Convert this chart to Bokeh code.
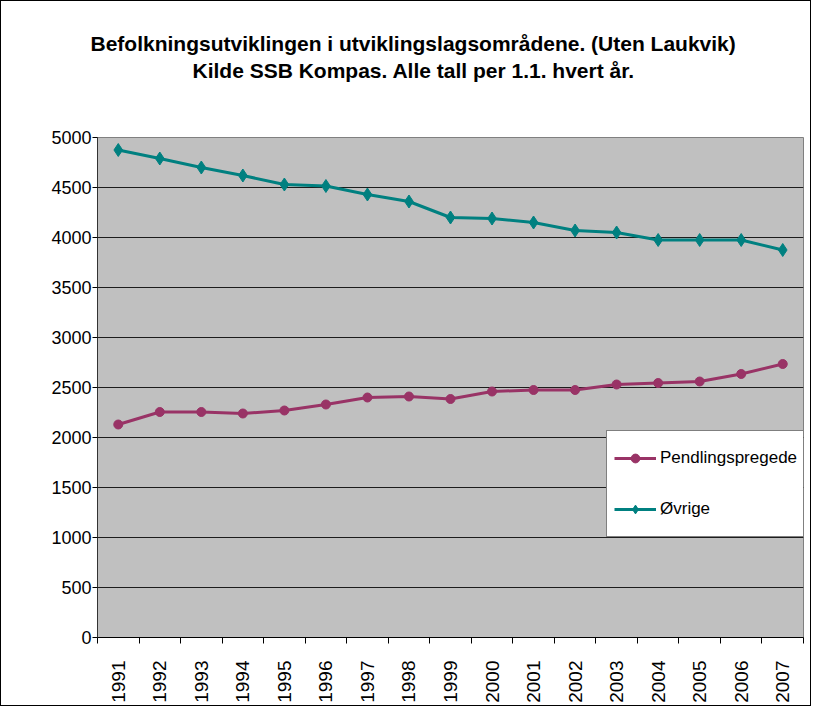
import math
from bokeh.plotting import figure
from bokeh.models import (ColumnDataSource, FixedTicker, Title, Legend, LegendItem, Range1d)
from bokeh.embed import file_html
from bokeh.resources import INLINE

years = [1991, 1992, 1993, 1994, 1995, 1996, 1997, 1998, 1999, 2000,
         2001, 2002, 2003, 2004, 2005, 2006, 2007]
pendlingspregede = [2130, 2255, 2255, 2240, 2270, 2330, 2400, 2410, 2385, 2460,
                    2475, 2475, 2530, 2545, 2560, 2635, 2735]
ovrige = [4875, 4790, 4700, 4620, 4530, 4515, 4430, 4360, 4200, 4190,
          4150, 4070, 4050, 3975, 3975, 3975, 3875]
y_ticks = [0, 500, 1000, 1500, 2000, 2500, 3000, 3500, 4000, 4500, 5000]
title_lines = ["Befolkningsutviklingen i utviklingslagsområdene. (Uten Laukvik)",
               "Kilde SSB Kompas. Alle tall per 1.1. hvert år."]
series_names = ["Pendlingspregede", "Øvrige"]

FONT = "Liberation Sans"
MAROON = "#993366"
TEAL = "#008080"

src = ColumnDataSource(dict(year=years, p=pendlingspregede, o=ovrige))

p = figure(width=809, height=704, output_backend="svg", toolbar_location=None,
           x_range=Range1d(years[0] - 0.5, years[-1] + 0.5),
           y_range=Range1d(y_ticks[0], y_ticks[-1]),
           min_border_left=96, min_border_top=136, min_border_right=7, min_border_bottom=68,
           frame_width=706, frame_height=500)
p.styles = {"border": "1px solid black"}
p.background_fill_color = "#C0C0C0"
p.border_fill_color = "white"
p.outline_line_color = "#808080"
p.outline_line_width = 1

# y axis
p.yaxis.ticker = FixedTicker(ticks=y_ticks)
p.yaxis.axis_line_color = "#333333"
p.yaxis.axis_line_width = 1
p.yaxis.major_tick_out = 5
p.yaxis.major_tick_in = 0
p.yaxis.minor_tick_out = 0
p.yaxis.minor_tick_in = 0
p.yaxis.major_label_standoff = 1
p.yaxis.major_label_text_font = FONT
p.yaxis.major_label_text_font_size = "18px"
p.yaxis.major_label_text_color = "black"

# x axis: labels at years, ticks at category boundaries
bounds = [y - 0.5 for y in years] + [years[-1] + 0.5]
p.xaxis.ticker = FixedTicker(ticks=years, minor_ticks=bounds)
p.xaxis.axis_line_color = "black"
p.xaxis.major_tick_out = 0
p.xaxis.major_tick_in = 0
p.xaxis.minor_tick_out = 6
p.xaxis.minor_tick_in = 0
p.xaxis.minor_tick_line_color = "black"
p.xaxis.major_label_orientation = math.pi / 2
p.xaxis.major_label_standoff = 17
p.xaxis.major_label_text_font = FONT
p.xaxis.major_label_text_font_size = "19px"
p.xaxis.major_label_text_color = "black"

p.xgrid.grid_line_color = None
p.ygrid.ticker = FixedTicker(ticks=y_ticks)
p.ygrid.grid_line_color = "black"
p.ygrid.grid_line_width = 1
p.ygrid.grid_line_alpha = 0.85

l1 = p.line("year", "p", source=src, line_color=MAROON, line_width=3)
m1 = p.scatter("year", "p", source=src, marker="circle", size=9,
               fill_color=MAROON, line_color=MAROON)
l2 = p.line("year", "o", source=src, line_color=TEAL, line_width=3)
m2 = p.scatter("year", "o", source=src, marker="diamond", size=13,
               fill_color=TEAL, line_color=TEAL)

legend = Legend(items=[LegendItem(label=series_names[0], renderers=[l1, m1]),
                       LegendItem(label=series_names[1], renderers=[l2, m2])],
                location=(509, 100), orientation="vertical")
legend.background_fill_color = "white"
legend.background_fill_alpha = 1
legend.border_line_color = "black"
legend.border_line_width = 1
legend.label_text_font = FONT
legend.label_text_font_size = "17px"
legend.label_text_color = "black"
legend.glyph_width = 42
legend.glyph_height = 22
legend.label_height = 40
legend.label_standoff = 4
legend.spacing = 11
legend.padding = 7
legend.margin = 0
p.add_layout(legend, "center")

# spacer between frame and the two title lines
p.add_layout(Title(text=" ", text_font_size="47px", text_font=FONT, standoff=0), "above")
title_offsets = [-7, 95]
for txt, off in reversed(list(zip(title_lines, title_offsets))):
    p.add_layout(Title(text=txt, align="left", offset=off, standoff=2,
                       text_font=FONT, text_font_style="bold",
                       text_font_size="21px", text_color="black"), "above")

open("out.html", "w").write(file_html(p, INLINE))
